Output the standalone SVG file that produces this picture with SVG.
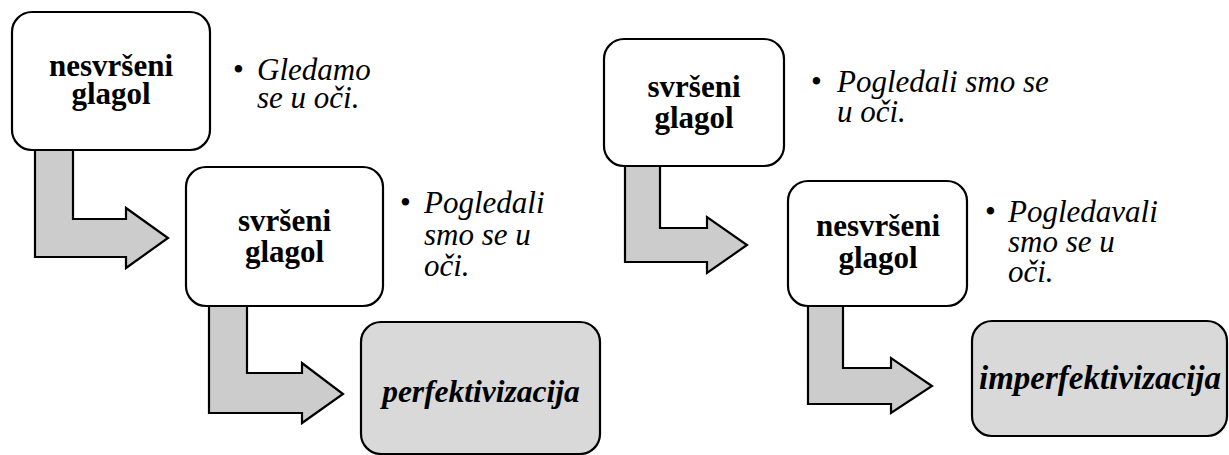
<svg xmlns="http://www.w3.org/2000/svg" width="1229" height="455" viewBox="0 0 1229 455" xml:lang="hr" font-family="Liberation Serif, Times New Roman, DejaVu Serif, serif">
<defs>
<style>
.box{fill:#ffffff;stroke:#000000;stroke-width:2.2}
.gbox{fill:#d9d9d9;stroke:#000000;stroke-width:2.2}
.arr{fill:#cccccc;stroke:#000000;stroke-width:2.2;stroke-linejoin:miter}
</style>
</defs>
<rect width="1229" height="455" fill="#ffffff"/>
<g id="connectors">
<polygon class="arr" points="35,150 35,257 126,257 126,268 168,238 126,208 126,219 73,219 73,150"/>
<polygon class="arr" points="209,306 209,413 302,413 302,423 343,394 302,363 302,373 247,373 247,306"/>
<polygon class="arr" points="625,166 625,262 707,262 707,273 747,245 707,217 707,228 660,228 660,166"/>
<polygon class="arr" points="808,306 808,404 891,404 891,413 932,386 891,358 891,368 843,368 843,306"/>
</g>
<g id="node-l1">
<rect class="box" x="12" y="12" width="198" height="138" rx="20"/>
<text x="111" y="76" font-family="Liberation Serif" font-size="31" font-weight="bold" text-anchor="middle">nesvršeni</text>
<text x="111" y="104" font-family="Liberation Serif" font-size="31" font-weight="bold" text-anchor="middle">glagol</text>
</g>
<g id="ex-l1">
<text x="233" y="80" font-family="Liberation Serif" font-size="31">•</text>
<text x="257" y="80" font-family="Liberation Serif" font-size="31" font-style="italic">Gledamo</text>
<text x="257" y="108" font-family="Liberation Serif" font-size="31" font-style="italic">se u oči.</text>
</g>
<g id="node-l2">
<rect class="box" x="186" y="167" width="197" height="139" rx="20"/>
<text x="284.5" y="231" font-family="Liberation Serif" font-size="31" font-weight="bold" text-anchor="middle">svršeni</text>
<text x="284.5" y="262" font-family="Liberation Serif" font-size="31" font-weight="bold" text-anchor="middle">glagol</text>
</g>
<g id="ex-l2">
<text x="400" y="213" font-family="Liberation Serif" font-size="31">•</text>
<text x="424" y="213" font-family="Liberation Serif" font-size="31" font-style="italic">Pogledali</text>
<text x="424" y="245" font-family="Liberation Serif" font-size="31" font-style="italic">smo se u</text>
<text x="424" y="276" font-family="Liberation Serif" font-size="31" font-style="italic">oči.</text>
</g>
<g id="node-l3">
<rect class="gbox" x="361" y="322" width="239" height="132" rx="20"/>
<text x="481" y="402" font-family="Liberation Serif" font-size="31.5" font-weight="bold" font-style="italic" text-anchor="middle">perfektivizacija</text>
</g>
<g id="node-r1">
<rect class="box" x="604" y="39" width="180" height="127" rx="20"/>
<text x="694" y="97" font-family="Liberation Serif" font-size="31" font-weight="bold" text-anchor="middle">svršeni</text>
<text x="694" y="128" font-family="Liberation Serif" font-size="31" font-weight="bold" text-anchor="middle">glagol</text>
</g>
<g id="ex-r1">
<text x="811" y="92" font-family="Liberation Serif" font-size="31">•</text>
<text x="837" y="92" font-family="Liberation Serif" font-size="31" font-style="italic">Pogledali smo se</text>
<text x="837" y="122" font-family="Liberation Serif" font-size="31" font-style="italic">u oči.</text>
</g>
<g id="node-r2">
<rect class="box" x="788" y="181" width="179" height="125" rx="20"/>
<text x="878" y="236" font-family="Liberation Serif" font-size="31" font-weight="bold" text-anchor="middle">nesvršeni</text>
<text x="878" y="268" font-family="Liberation Serif" font-size="31" font-weight="bold" text-anchor="middle">glagol</text>
</g>
<g id="ex-r2">
<text x="985" y="222" font-family="Liberation Serif" font-size="31">•</text>
<text x="1008" y="222" font-family="Liberation Serif" font-size="31" font-style="italic">Pogledavali</text>
<text x="1008" y="252" font-family="Liberation Serif" font-size="31" font-style="italic">smo se u</text>
<text x="1008" y="282" font-family="Liberation Serif" font-size="31" font-style="italic">oči.</text>
</g>
<g id="node-r3">
<rect class="gbox" x="972" y="321" width="255" height="115" rx="20"/>
<text x="1100" y="389" font-family="Liberation Serif" font-size="33" font-weight="bold" font-style="italic" text-anchor="middle">imperfektivizacija</text>
</g>
</svg>
